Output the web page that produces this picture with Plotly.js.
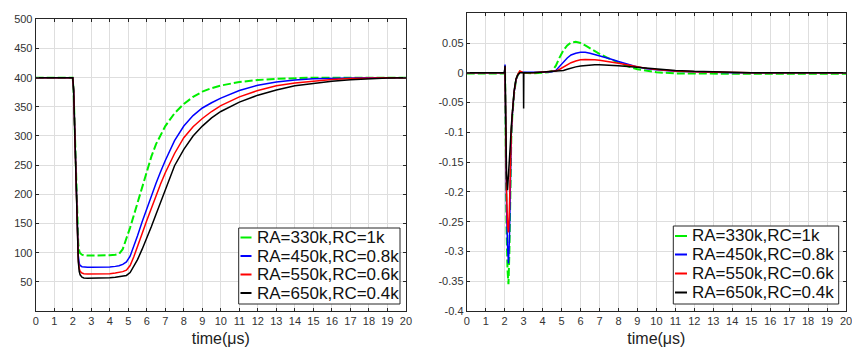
<!DOCTYPE html>
<html>
<head>
<meta charset="utf-8">
<script src="https://cdn.plot.ly/plotly-3.0.1.min.js"></script>
<style>html,body{margin:0;padding:0;background:#fff;}#chart{width:852px;height:348px;}</style>
</head>
<body>
<div id="chart"></div>
<script>
// ---------- data ----------
const seriesNames = ["RA=330k,RC=1k", "RA=450k,RC=0.8k", "RA=550k,RC=0.6k", "RA=650k,RC=0.4k"];
const xTickVals = [0,1,2,3,4,5,6,7,8,9,10,11,12,13,14,15,16,17,18,19,20];
const yTickValsLeft = [50,100,150,200,250,300,350,400,450,500];
const yTickValsRight = [-0.4,-0.35,-0.3,-0.25,-0.2,-0.15,-0.1,-0.05,0,0.05];
const yTickTextRight = ["-0.4","-0.35","-0.3","-0.25","-0.2","-0.15","-0.1","-0.05","0","0.05"];

// left panel time (µs)
const tLeft = [0, 2.0, 2.05, 2.1, 2.15, 2.2, 2.25, 2.3, 2.35, 2.4, 2.5, 2.6, 2.8, 3.0, 3.5, 4.0, 4.3, 4.5, 4.7, 4.9, 5.1, 5.3, 5.5, 5.75, 6.0, 6.25, 6.5, 6.75, 7.0, 7.5, 8.0, 8.5, 9.0, 9.5, 10, 11, 12, 13, 14, 15, 16, 17, 18, 19, 20];
const left330 = [400, 400, 375, 315, 255, 195, 145, 115, 103, 99, 96.5, 95.5, 95, 95, 95, 95.5, 96.5, 98, 106, 123, 143, 164, 186, 212, 240, 265, 286, 303, 317, 339, 355, 367, 376, 382, 386.5, 392.5, 396, 398, 399.3, 400, 400, 400, 400, 400, 400];
const left450 = [400, 400, 378, 312, 252, 190, 135, 95, 82, 78, 76, 75.3, 75, 75, 75, 75.5, 76.5, 77.5, 80, 84, 94, 110, 129, 153, 176, 199, 219, 239, 258, 292, 317, 335, 348, 357, 365, 378, 387, 392.5, 396, 398, 399, 399.5, 400, 400, 400];
const left550 = [400, 400, 378, 312, 250, 188, 130, 88, 73, 68, 65, 64, 63.5, 63.5, 63.5, 64, 65, 66, 67.5, 70, 78, 93, 112, 133, 155, 177, 198, 218, 237, 270, 297, 316, 330, 342, 352, 367, 378, 386, 391, 394.5, 397, 398.5, 399.5, 400, 400];
const left650 = [400, 400, 378, 310, 248, 186, 128, 85, 68, 62, 58, 56.5, 56, 56, 56.3, 57, 57.8, 58.5, 59.5, 61, 66, 76, 88, 106, 124, 145, 166, 187, 208, 249, 277, 300, 317, 331, 342, 358, 370, 379, 386, 390.5, 394, 396.5, 398.3, 399.3, 400];

// right panel time (µs)
const tRight = [0, 1.99, 2.02, 2.05, 2.1, 2.15, 2.2, 2.25, 2.3, 2.35, 2.4, 2.5, 2.6, 2.7, 2.8, 2.9, 2.99, 3.0, 3.01, 3.5, 4.0, 4.3, 4.5, 4.7, 4.9, 5.1, 5.3, 5.5, 5.75, 6.0, 6.25, 6.5, 6.75, 7.0, 7.5, 8.0, 8.5, 9.0, 9.5, 10, 11, 12, 13, 14, 15, 16, 18, 20];
const right330 = [-0.001, -0.001, 0.005, -0.12, -0.26, -0.33, -0.355, -0.30, -0.18, -0.11, -0.075, -0.035, -0.012, -0.003, 0.002, 0.001, 0, 0, 0, -0.001, 0, 0.001, 0.003, 0.012, 0.026, 0.038, 0.046, 0.051, 0.052, 0.050, 0.046, 0.041, 0.036, 0.032, 0.024, 0.017, 0.011, 0.006, 0.003, 0.001, -0.001, -0.0015, -0.0015, -0.0015, -0.0015, -0.0015, -0.0015, -0.0015];
const right450 = [0, 0, 0.014, -0.10, -0.23, -0.29, -0.32, -0.28, -0.17, -0.105, -0.072, -0.033, -0.012, -0.003, 0.001, 0.001, 0, 0, 0, 0, 0.001, 0.0015, 0.002, 0.004, 0.011, 0.019, 0.025, 0.030, 0.033, 0.0345, 0.0345, 0.033, 0.031, 0.029, 0.024, 0.019, 0.014, 0.010, 0.007, 0.005, 0.0025, 0.0015, 0.0008, 0.0003, 0, 0, 0, 0];
const right550 = [0, 0, 0.010, -0.09, -0.20, -0.255, -0.268, -0.23, -0.15, -0.10, -0.07, -0.032, -0.011, -0.002, 0.003, 0.002, 0, 0, 0, 0, 0.001, 0.0015, 0.002, 0.003, 0.006, 0.010, 0.014, 0.017, 0.020, 0.022, 0.0225, 0.0225, 0.022, 0.021, 0.019, 0.016, 0.013, 0.010, 0.0075, 0.0055, 0.003, 0.002, 0.001, 0.0005, 0.0002, 0, 0, 0];
const right650 = [0, 0, 0.012, -0.08, -0.17, -0.197, -0.175, -0.14, -0.12, -0.09, -0.065, -0.03, -0.01, -0.003, 0, 0, 0, -0.06, 0, 0, 0.001, 0.0015, 0.002, 0.002, 0.0025, 0.004, 0.006, 0.008, 0.010, 0.0115, 0.0125, 0.013, 0.0135, 0.0135, 0.013, 0.012, 0.0105, 0.009, 0.0075, 0.006, 0.004, 0.0025, 0.0015, 0.0008, 0.0003, 0.0001, 0, 0];

// ---------- styles ----------
const W = 852, H = 348;
const colors = ["#00ee00", "#0000ff", "#ff0000", "#000000"];
const widths = [2, 1.5, 1.5, 1.5];
const dashes = ["8px,3px", "solid", "solid", "solid"];
const FONT = "Liberation Sans, Arial, Helvetica, sans-serif";

const leftY = [left330, left450, left550, left650];
const rightY = [right330, right450, right550, right650];

const traces = [];
for (let i = 0; i < 4; i++) {
  traces.push({x: tLeft, y: leftY[i], type: "scatter", mode: "lines", name: seriesNames[i],
    line: {color: colors[i], width: widths[i], dash: dashes[i]}, xaxis: "x", yaxis: "y", showlegend: false});
}
for (let i = 0; i < 4; i++) {
  traces.push({x: tRight, y: rightY[i], type: "scatter", mode: "lines", name: seriesNames[i],
    line: {color: colors[i], width: widths[i], dash: dashes[i]}, xaxis: "x2", yaxis: "y2", showlegend: false});
}

// ---------- legend boxes (pixel layout, drawn as paper shapes + text) ----------
const legendBoxes = [
  {x0: 238.7, x1: 400, y0: 228, y1: 304, lx0: 240.5, lx1: 251.5, tx: 255, rows: [237.5, 256, 274.5, 293]},
  {x0: 673.3, x1: 838.7, y0: 226, y1: 304, lx0: 675, lx1: 687, tx: 689.5, rows: [236, 254.5, 273.5, 292.5]}
];
const px = v => v / W, py = v => 1 - v / H;
const shapes = [], annotations = [];
legendBoxes.forEach(b => {
  shapes.push({type: "rect", xref: "paper", yref: "paper", x0: px(b.x0), x1: px(b.x1), y0: py(b.y1), y1: py(b.y0),
    line: {color: "#262626", width: 1}, fillcolor: "#ffffff", layer: "above"});
  b.rows.forEach((ry, i) => {
    shapes.push({type: "line", xref: "paper", yref: "paper", x0: px(b.lx0), x1: px(b.lx1), y0: py(ry), y1: py(ry),
      line: {color: colors[i], width: 2, dash: "solid"}, layer: "above"});
    annotations.push({xref: "paper", yref: "paper", x: px(b.tx), y: py(ry), xanchor: "left", yanchor: "middle",
      text: seriesNames[i], showarrow: false, font: {family: FONT, size: 17, color: "#111111"}});
  });
});

const axisCommon = {
  showline: true, linecolor: "#262626", linewidth: 1, mirror: "ticks",
  ticks: "inside", ticklen: 3, tickcolor: "#262626",
  showgrid: true, gridcolor: "#dedede", gridwidth: 1, zeroline: false,
  ticklabeloverflow: "allow",
  tickfont: {family: FONT, size: 11, color: "#333333"}
};
const titleFont = {family: FONT, size: 16, color: "#222222"};

const layout = {
  width: W, height: H,
  margin: {l: 0, r: 0, t: 0, b: 0},
  paper_bgcolor: "#ffffff", plot_bgcolor: "#ffffff",
  showlegend: false,
  xaxis: Object.assign({}, axisCommon, {domain: [0.0419, 0.4765], anchor: "y", range: [0, 20],
    tickvals: xTickVals, title: {text: "time(μs)", font: titleFont, standoff: 6}}),
  yaxis: Object.assign({}, axisCommon, {domain: [0.1063, 0.9445], anchor: "x", range: [0, 500],
    tickvals: yTickValsLeft}),
  xaxis2: Object.assign({}, axisCommon, {domain: [0.5478, 0.993], anchor: "y2", range: [0, 20],
    tickvals: xTickVals, title: {text: "time(μs)", font: titleFont, standoff: 6}}),
  yaxis2: Object.assign({}, axisCommon, {domain: [0.1063, 0.9618], anchor: "x2", range: [-0.4, 0.1],
    tickvals: yTickValsRight, ticktext: yTickTextRight}),
  shapes: shapes,
  annotations: annotations
};

Plotly.newPlot("chart", traces, layout, {displayModeBar: false, staticPlot: true});
</script>
</body>
</html>
